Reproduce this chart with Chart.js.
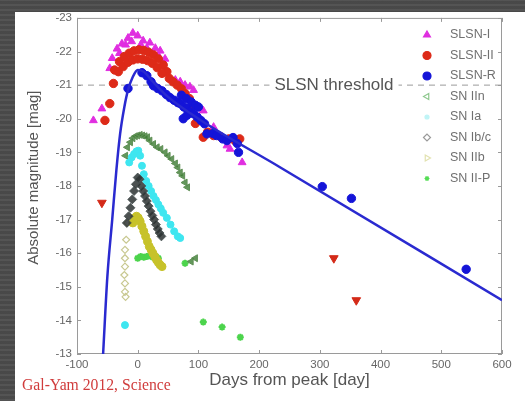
<!DOCTYPE html>
<html>
<head>
<meta charset="utf-8">
<script src="https://cdn.jsdelivr.net/npm/chart.js@4"></script>
<style>
html, body { margin: 0; padding: 0; }
body {
    width: 525px; height: 401px; overflow: hidden; position: relative;
    background: #4d4d4d;
    background-image: repeating-linear-gradient(0deg, rgba(255,255,255,0.04) 0 2px, rgba(0,0,0,0.06) 2px 5px);
}
#panel { position: absolute; left: 15px; top: 12px; width: 510px; height: 389px; background: #fff; }
#wrap { position: absolute; left: 15px; top: 6px; width: 510px; height: 395px; }
#cite { position: absolute; left: 22px; top: 376px; font: 15.7px "Liberation Serif", serif; color: #d03c3c; }
</style>
</head>
<body>
<div id="panel"></div>
<div id="wrap"><canvas id="myChart"></canvas></div>
<div id="cite">Gal-Yam 2012, Science</div>
<script>
// tick labels
let xTicks = [-100, 0, 100, 200, 300, 400, 500, 600];
let yTicks = [-23, -22, -21, -20, -19, -18, -17, -16, -15, -14, -13];

let seriesNames = ['SLSN-I', 'SLSN-II', 'SLSN-R', 'SN IIn', 'SN Ia', 'SN Ib/c', 'SN IIb', 'SN II-P'];
let threshold = -21;

// SLSN-I (triangles)
let slsnIDays = [-73, -59, -46, -42, -34, -26, -16, -8, 0, 9, 20, 29, 37, 45, -30, -20, -10, 5, 15, 25, 35,
    62, 70, 78, 86, 92, 103, 108, 125, 147, 152, 172];
let slsnIMags = [-19.95, -20.3, -21.5, -21.8, -22.08, -22.23, -22.4, -22.55, -22.47, -22.32, -22.26, -22.1, -22.02, -21.78,
    -21.95, -22.2, -22.3, -22.2, -22.1, -21.95, -21.85,
    -21.15, -21.1, -21.0, -20.95, -20.85, -20.3, -20.24, -19.75, -19.2, -19.1, -18.7];

// SLSN-II (circles)
let slsnIIDays = [-54, -46, -40,
    -38, -30, -22, -14, -6, 2, 10, 18, 26, 34, 42, 48,
    -32, -24, -16, -8, 0, 8, 16, 24, 32, 40,
    52, 58, 65, 72, 78, 85, 92, 95, 108, 115, 125, 136, 150, 160, 168];
let slsnIIMags = [-19.95, -20.45, -21.05,
    -21.45, -21.7, -21.85, -21.95, -22.02, -22.05, -22.03, -21.98, -21.9, -21.78, -21.6, -21.4,
    -21.4, -21.55, -21.68, -21.75, -21.78, -21.77, -21.73, -21.65, -21.52, -21.35,
    -21.2, -21.1, -21.0, -20.89, -20.75, -20.6, -20.4, -19.86, -19.45, -19.6, -19.5, -19.47, -19.4, -19.35, -19.4];

// SLSN-II upper limits (down triangles)
let slsnIILimDays = [-59, 323, 360];
let slsnIILimMags = [-17.5, -15.85, -14.6];

// SLSN-R (circles)
let slsnRDays = [-16, 7, 15, 22, 26, 33, 40, 47, 53, 60, 66, 70, 72, 76, 80, 81, 86, 88, 92, 95, 100,
    75, 81, 98, 104, 110, 114, 124, 130, 140, 147, 157, 164, 166, 304, 352, 541];
let slsnRMags = [-20.9, -21.37, -21.28, -21.1, -20.98, -20.9, -20.83, -20.72, -20.63, -20.55, -20.48, -20.45, -20.7, -20.35,
    -20.6, -20.3, -20.2, -20.5, -20.15, -20.4, -20.35,
    -20.0, -20.1, -20.05, -19.95, -19.85, -19.55, -19.56, -19.5, -19.4, -19.35, -19.44, -19.26, -19.0,
    -17.98, -17.63, -15.52];

// SLSN-R model curve
let modelDays = [-57, -50, -42, -35, -29, -22, -16, -8, 0, 10, 25, 50, 100, 235, 600];
let modelMags = [-13, -15.3, -17, -18.5, -19.55, -20.35, -20.85, -21.25, -21.45, -21.4, -21.1, -20.65, -20.0, -18.55, -14.6];

// SN IIn
let snIInDays = [-20, -17, -12, -8, -4, 0, 4, 8, 12, 16, 20, 26, 32, 38, 45, 50, 56, 62, 66, 70, 74, 78, 82, 88, 95];
let snIInMags = [-18.9, -19.15, -19.3, -19.42, -19.48, -19.5, -19.52, -19.5, -19.48, -19.45, -19.35, -19.25, -19.15,
    -19.1, -19.0, -18.9, -18.8, -18.67, -18.55, -18.4, -18.3, -18.1, -17.96, -15.75, -15.85];

// SN Ia
let snIaDays = [-21, -14, -10, -6, -2, 1, 4, 7, 10, 14, 18, 22, 26, 30, 34, 38, 42, 48, 54, 60, 66, 70];
let snIaMags = [-13.86, -18.7, -18.85, -18.95, -19.03, -19.05, -18.9, -18.6, -18.35, -18.15, -18.0, -17.85, -17.7,
    -17.58, -17.45, -17.33, -17.2, -17.05, -16.85, -16.65, -16.5, -16.45];

// SN Ib/c
let snIbcDays = [-18, -15, -12, -9, -6, -3, 0, 3, 6, 9, 12, 15, 18, 21, 24, 27, 30, 33, 36, 39];
let snIbcMags = [-16.9, -17.1, -17.35, -17.6, -17.85, -18.05, -18.25, -18.2, -18.0, -17.85, -17.7, -17.55, -17.4,
    -17.25, -17.12, -17.0, -16.85, -16.72, -16.6, -16.5];

// SN IIb
let snIIbDays = [-8, -5, -2, 1, 4, 7, 10, 13, 16, 19, 22, 25, 28, 31, 34, 37, 40];
let snIIbMags = [-16.9, -17.05, -17.1, -17.05, -16.95, -16.8, -16.65, -16.5, -16.35, -16.2, -16.1, -16.0, -15.9,
    -15.8, -15.72, -15.65, -15.6];
let snIIbRiseDays = [-17, -19, -21, -21, -21, -22, -21, -21, -20];
let snIIbRiseMags = [-16.9, -16.4, -16.1, -15.85, -15.6, -15.35, -15.1, -14.85, -14.7];

// SN II-P
let snIIPDays = [0, 5, 10, 15, 20, 25, 30, 34, 78, 108, 139, 169];
let snIIPMags = [-15.85, -15.9, -15.88, -15.9, -15.92, -15.88, -15.9, -15.85, -15.7, -13.95, -13.8, -13.5];

function pts(xs, ys) {
    return xs.map((v, i) => ({ x: v, y: ys[i] }));
}

let legendMarks = [
    { pointStyle: 'triangle', rotation: 0, radius: 4, fill: '#e02ee0', stroke: '#e02ee0' },
    { pointStyle: 'circle', rotation: 0, radius: 4, fill: '#dd2a18', stroke: '#dd2a18' },
    { pointStyle: 'circle', rotation: 0, radius: 4, fill: '#1414d8', stroke: '#1414d8' },
    { pointStyle: 'triangle', rotation: -90, radius: 3.5, fill: 'rgba(0,0,0,0)', stroke: '#8fc88f' },
    { pointStyle: 'circle', rotation: 0, radius: 2, fill: '#bff4f6', stroke: '#bff4f6' },
    { pointStyle: 'rectRot', rotation: 0, radius: 3.5, fill: 'rgba(0,0,0,0)', stroke: '#9a9a9a' },
    { pointStyle: 'triangle', rotation: 90, radius: 3.5, fill: 'rgba(0,0,0,0)', stroke: '#e2e2b0' },
    { pointStyle: 'star', rotation: 0, radius: 2.5, fill: '#55dd55', stroke: '#55dd55' }
];

const extras = {
    id: 'extras',
    beforeDatasetsDraw(chart) {
        const { ctx, chartArea: a, scales: { x, y } } = chart;
        ctx.save();
        ctx.strokeStyle = '#9a9a9a';
        ctx.lineWidth = 1;
        ctx.strokeRect(a.left + 0.5, a.top + 0.5, a.width - 1, a.height - 1);
        ctx.beginPath();
        xTicks.forEach(v => {
            let px = Math.round(x.getPixelForValue(v)) + 0.5;
            ctx.moveTo(px, a.bottom); ctx.lineTo(px, a.bottom - 4);
            ctx.moveTo(px, a.top); ctx.lineTo(px, a.top + 4);
        });
        yTicks.forEach(v => {
            let py = Math.round(y.getPixelForValue(v)) + 0.5;
            ctx.moveTo(a.left, py); ctx.lineTo(a.left + 4, py);
            ctx.moveTo(a.right, py); ctx.lineTo(a.right - 4, py);
        });
        ctx.stroke();
        ctx.restore();
    },
    afterDatasetsDraw(chart) {
        const { ctx, scales: { y } } = chart;
        ctx.save();
        // threshold label
        let ty = y.getPixelForValue(threshold);
        ctx.font = '17px "Liberation Sans", Arial, sans-serif';
        let w = ctx.measureText('SLSN threshold').width;
        ctx.fillStyle = '#fff';
        ctx.fillRect(319 - w / 2 - 5, ty - 9, w + 10, 18);
        ctx.fillStyle = '#555';
        ctx.textAlign = 'center';
        ctx.textBaseline = 'middle';
        ctx.fillText('SLSN threshold', 319, ty);
        // legend
        ctx.font = '12.5px "Liberation Sans", Arial, sans-serif';
        ctx.textAlign = 'left';
        seriesNames.forEach((name, i) => {
            let ly = 29 + i * 20.5;
            let m = legendMarks[i];
            ctx.fillStyle = m.fill;
            ctx.strokeStyle = m.stroke;
            ctx.lineWidth = 1.2;
            Chart.helpers.drawPoint(ctx, { pointStyle: m.pointStyle, rotation: m.rotation, radius: m.radius, borderWidth: 1.2 }, 412, ly);
            ctx.fillStyle = '#707070';
            ctx.fillText(name, 435, ly);
        });
        ctx.restore();
    }
};

let ctx = document.getElementById('myChart').getContext('2d');
let myChart = new Chart(ctx, {
    type: 'scatter',
    data: {
        datasets: [
            {
                label: 'threshold', data: pts([-100, 600], [threshold, threshold]), showLine: true,
                borderColor: '#9a9a9a', borderWidth: 1, borderDash: [6, 5], pointRadius: 0, order: 20
            },
            {
                label: 'SLSN-R model', data: pts(modelDays, modelMags), showLine: true,
                borderColor: '#2a2ad0', borderWidth: 2.5, pointRadius: 0, cubicInterpolationMode: 'monotone', order: 1
            },
            {
                label: 'SN Ib/c', data: pts(snIbcDays, snIbcMags), pointStyle: 'rectRot', pointRadius: 4.5,
                backgroundColor: 'rgba(45,50,50,0.85)', borderColor: 'rgba(70,80,80,0.8)', borderWidth: 1, order: 9
            },
            {
                label: 'SN Ia', data: pts(snIaDays, snIaMags), pointStyle: 'circle', pointRadius: 3.5,
                backgroundColor: '#3ee6f0', borderColor: '#3ee6f0', borderWidth: 1, order: 9
            },
            {
                label: 'SN IIb', data: pts(snIIbDays, snIIbMags), pointStyle: 'circle', pointRadius: 4,
                backgroundColor: '#c7c22a', borderColor: '#c7c22a', borderWidth: 1, order: 9
            },
            {
                label: 'SN IIb rise', data: pts(snIIbRiseDays, snIIbRiseMags), pointStyle: 'rectRot', pointRadius: 3.5,
                backgroundColor: 'rgba(0,0,0,0)', borderColor: '#c8c890', borderWidth: 1.2, order: 9
            },
            {
                label: 'SN IIn', data: pts(snIInDays, snIInMags), pointStyle: 'triangle', rotation: -90, pointRadius: 4,
                backgroundColor: 'rgba(60,125,50,0.8)', borderColor: '#5f8f55', borderWidth: 1, order: 9
            },
            {
                label: 'SN II-P', data: pts(snIIPDays, snIIPMags), pointStyle: 'star', pointRadius: 3.5,
                backgroundColor: '#4cd44c', borderColor: '#4cd44c', borderWidth: 2, order: 9
            },
            {
                label: 'SLSN-I', data: pts(slsnIDays, slsnIMags), pointStyle: 'triangle', pointRadius: 4.5,
                backgroundColor: '#e02ee0', borderColor: '#e02ee0', borderWidth: 1, order: 5
            },
            {
                label: 'SLSN-II', data: pts(slsnIIDays, slsnIIMags), pointStyle: 'circle', pointRadius: 4.2,
                backgroundColor: '#dd2a18', borderColor: '#dd2a18', borderWidth: 1, order: 4
            },
            {
                label: 'SLSN-II limits', data: pts(slsnIILimDays, slsnIILimMags), pointStyle: 'triangle', rotation: 180, pointRadius: 5,
                backgroundColor: '#d42a18', borderColor: '#d42a18', borderWidth: 1, order: 4
            },
            {
                label: 'SLSN-R', data: pts(slsnRDays, slsnRMags), pointStyle: 'circle', pointRadius: 4.2,
                backgroundColor: '#1414d8', borderColor: '#1414d8', borderWidth: 1, order: 2
            }
        ]
    },
    options: {
        responsive: true,
        maintainAspectRatio: false,
        animation: false,
        layout: { padding: { left: 0, right: 23, top: 0, bottom: 0 } },
        plugins: { legend: { display: false }, tooltip: { enabled: false } },
        scales: {
            x: {
                type: 'linear', min: -100, max: 600,
                afterBuildTicks: s => { s.ticks = xTicks.map(v => ({ value: v })); },
                afterFit: s => { s.height = 47; },
                grid: { display: false, drawTicks: false, tickLength: 0 },
                border: { display: false },
                ticks: { color: '#666', font: { size: 11.5, family: '"Liberation Sans", Arial' }, padding: 4 },
                title: { display: true, text: 'Days from peak [day]', color: '#555',
                    font: { size: 17, family: '"Liberation Sans", Arial' }, padding: { top: 0, bottom: 10 } }
            },
            y: {
                type: 'linear', min: -23, max: -13, reverse: true,
                afterBuildTicks: s => { s.ticks = yTicks.map(v => ({ value: v })); },
                afterFit: s => { s.width = 62; },
                grid: { display: false, drawTicks: false, tickLength: 0 },
                border: { display: false },
                ticks: { color: '#666', font: { size: 11.5, family: '"Liberation Sans", Arial' }, padding: 5 },
                title: { display: true, text: '    Absolute magnitude [mag]', color: '#555',
                    font: { size: 15, family: '"Liberation Sans", Arial' }, padding: { top: 10, bottom: 0 } }
            }
        }
    },
    plugins: [extras]
});
</script>
</body>
</html>
